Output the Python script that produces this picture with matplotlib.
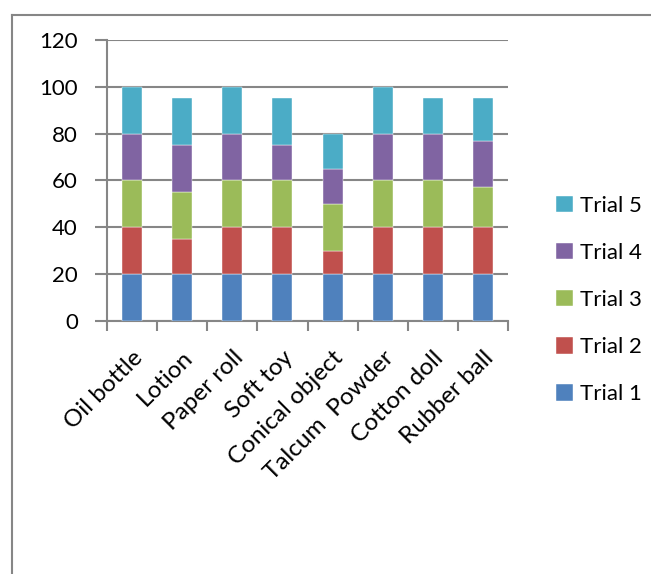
import numpy as np
import matplotlib
matplotlib.use('Agg')
import matplotlib.pyplot as plt
from matplotlib.lines import Line2D

plt.rcParams['font.family'] = ['Lato', 'DejaVu Sans']

# Chart data
categories = ['Oil bottle', 'Lotion', 'Paper roll', 'Soft toy', 'Conical object',
              'Talcum  Powder', 'Cotton doll', 'Rubber ball']
trial1 = [20, 20, 20, 20, 20, 20, 20, 20]
trial2 = [20, 15, 20, 20, 10, 20, 20, 20]
trial3 = [20, 20, 20, 20, 20, 20, 20, 17]
trial4 = [20, 20, 20, 15, 15, 20, 20, 20]
trial5 = [20, 20, 20, 20, 15, 20, 15, 18]
series_names = ['Trial 1', 'Trial 2', 'Trial 3', 'Trial 4', 'Trial 5']
y_ticks = [0, 20, 40, 60, 80, 100, 120]

colors = ['#4F81BD', '#C0504D', '#9BBB59', '#8064A2', '#4BACC6']
grid_color = '#868686'

fig = plt.figure(figsize=(6.51, 5.74), dpi=100)
ax = fig.add_axes([107 / 651, 1 - 320.7 / 574, (508 - 107) / 651, (320.7 - 40) / 574])

x = np.arange(len(categories))
bottom = np.zeros(len(categories))
bars = []
for name, vals, col in zip(series_names, [trial1, trial2, trial3, trial4, trial5], colors):
    b = ax.bar(x, vals, width=0.4, bottom=bottom, color=col, label=name,
               edgecolor='white', linewidth=0.3, zorder=3)
    bars.append(b)
    bottom += np.array(vals)

ax.set_xlim(-0.5, len(categories) - 0.5)
ax.set_ylim(0, 120)
ax.set_yticks(y_ticks)
ax.yaxis.grid(True, color=grid_color, linewidth=1.5, zorder=0)

# x ticks at category boundaries, labels at centres
ax.set_xticks(np.arange(len(categories) + 1) - 0.5)
ax.set_xticklabels([])
ax.set_xticks(x, minor=True)
ax.set_xticklabels(categories, minor=True, rotation=45, ha='right',
                   rotation_mode='anchor', fontsize=17.5)
ax.tick_params(axis='x', which='minor', length=0, pad=19)
ax.tick_params(axis='x', which='major', length=7, width=1.5, color=grid_color)
ax.tick_params(axis='y', length=9, width=1.5, color=grid_color, labelsize=16, pad=12)

for side in ['top', 'right']:
    ax.spines[side].set_visible(False)
for side in ['left', 'bottom']:
    ax.spines[side].set_color(grid_color)
    ax.spines[side].set_linewidth(1.5)

handles = [bars[i] for i in range(4, -1, -1)]
labels = [series_names[i] for i in range(4, -1, -1)]
fig.legend(handles, labels, loc='center left', bbox_to_anchor=(547 / 651, 1 - 300 / 574),
           frameon=False, fontsize=16, handlelength=0.75, handleheight=0.75,
           handletextpad=0.35, labelspacing=1.22, borderaxespad=0)

# outer chart border (left and top edges visible)
fig.add_artist(Line2D([12 / 651, 12 / 651], [0, 1 - 15 / 574], color=grid_color,
                      linewidth=1.5, transform=fig.transFigure))
fig.add_artist(Line2D([12 / 651, 1], [1 - 15 / 574, 1 - 15 / 574], color=grid_color,
                      linewidth=1.5, transform=fig.transFigure))

fig.savefig('out.png', dpi=100)
